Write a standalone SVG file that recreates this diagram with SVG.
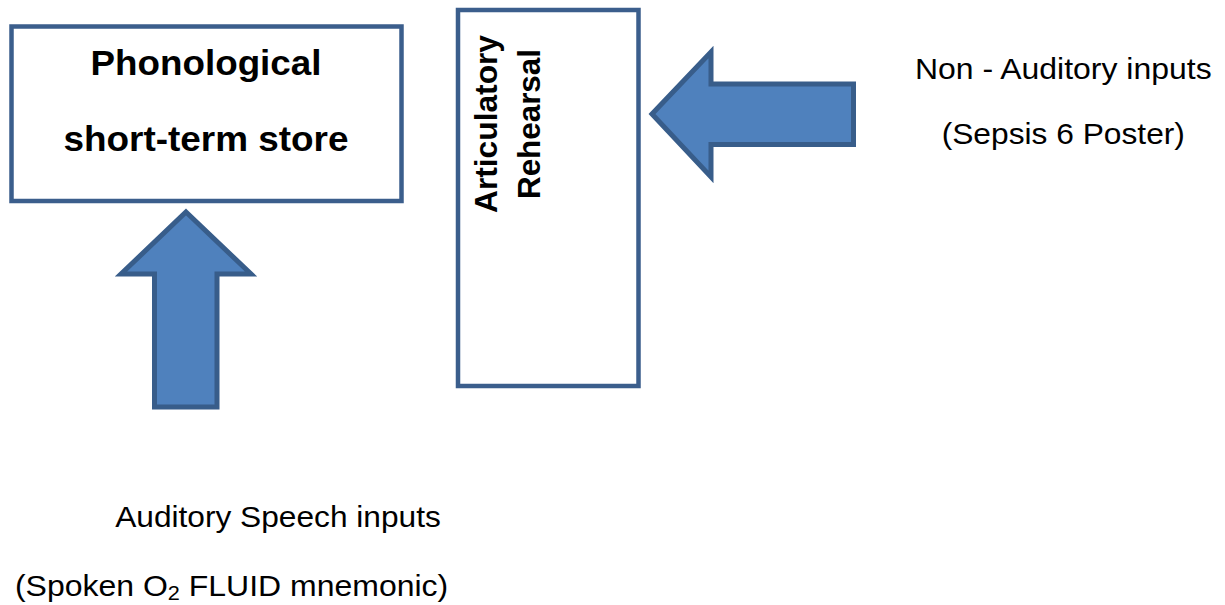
<svg xmlns="http://www.w3.org/2000/svg" width="1225" height="605" viewBox="0 0 1225 605">
  <style>
    .box { fill: #ffffff; stroke: #3b5e8c; stroke-width: 4.5; }
    .arrow { fill: #4f81bd; stroke: #385d8a; stroke-width: 5; stroke-linejoin: miter; }
    .bold { font-family: "Liberation Sans", Arial, sans-serif; font-weight: bold; fill: #000000; }
    .plain { font-family: "Liberation Sans", Arial, sans-serif; font-size: 29.5px; fill: #000000; }
  </style>
  <rect width="1225" height="605" fill="#ffffff"/>

  <!-- Phonological short-term store -->
  <g id="store">
    <rect class="box" x="11.5" y="26.5" width="390" height="174.5"/>
    <text class="bold" x="206" y="75" font-size="35" text-anchor="middle" textLength="231" lengthAdjust="spacingAndGlyphs">Phonological</text>
    <text class="bold" x="206" y="151" font-size="35" text-anchor="middle" textLength="285" lengthAdjust="spacingAndGlyphs">short-term store</text>
  </g>

  <!-- Articulatory rehearsal loop -->
  <g id="rehearsal">
    <rect class="box" x="458" y="10" width="180.5" height="376"/>
    <text class="bold" transform="translate(497,124) rotate(-90)" font-size="31" text-anchor="middle" textLength="178" lengthAdjust="spacingAndGlyphs">Articulatory</text>
    <text class="bold" transform="translate(540,124) rotate(-90)" font-size="31" text-anchor="middle" textLength="150" lengthAdjust="spacingAndGlyphs">Rehearsal</text>
  </g>

  <!-- Input labels -->
  <g id="non-auditory">
    <text class="plain" x="1063.3" y="79" text-anchor="middle" textLength="296.7" lengthAdjust="spacingAndGlyphs">Non - Auditory inputs</text>
    <text class="plain" x="1063.3" y="144" text-anchor="middle" textLength="243.3" lengthAdjust="spacingAndGlyphs">(Sepsis 6 Poster)</text>
  </g>
  <g id="auditory">
    <text class="plain" x="278" y="527" text-anchor="middle" textLength="325.7" lengthAdjust="spacingAndGlyphs">Auditory Speech inputs</text>
    <text class="plain" x="231.6" y="596" text-anchor="middle" textLength="433.3" lengthAdjust="spacingAndGlyphs">(Spoken O<tspan font-size="20" dy="4">2</tspan><tspan dy="-4"> FLUID mnemonic)</tspan></text>
  </g>

  <!-- Block arrows feeding the stores -->
  <g id="connectors">
    <polygon class="arrow" points="186,212 251,274 217,274 217,407 154.5,407 154.5,274 121,274"/>
    <polygon class="arrow" points="652,114 711,52 711,84 853.5,84 853.5,144.5 711,144.5 711,177"/>
  </g>
</svg>
